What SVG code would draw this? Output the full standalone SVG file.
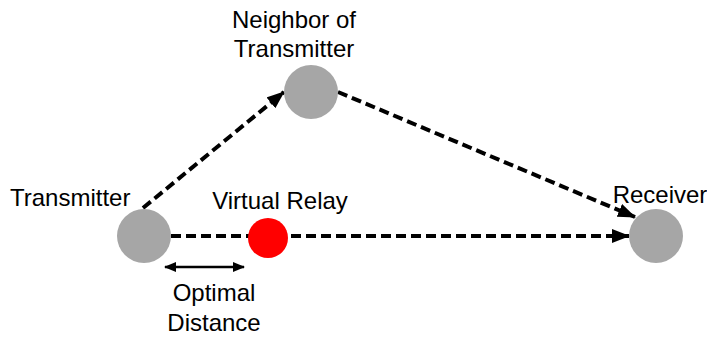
<svg xmlns="http://www.w3.org/2000/svg" width="707" height="339" viewBox="0 0 707 339">
<style>
text{font-family:"Liberation Sans",Arial,sans-serif;font-size:24px;fill:#000}
.node{fill:#a6a6a6}
.relay{fill:#ff0000}
.dash{stroke:#000;stroke-width:4;stroke-dasharray:10 5;fill:none}
.dbl{stroke:#000;stroke-width:2.5;fill:none}
</style>
<defs>
<marker id="ah" markerUnits="userSpaceOnUse" markerWidth="18" markerHeight="14" refX="17" refY="7" orient="auto">
<path d="M0,0 L18,7 L0,14 Z" fill="#000"/>
</marker>
<marker id="sh" markerUnits="userSpaceOnUse" markerWidth="12" markerHeight="10" refX="11" refY="5" orient="auto-start-reverse">
<path d="M0,0 L12,5 L0,10 Z" fill="#000"/>
</marker>
</defs>
<g id="connectors">
<line class="dash" x1="143" y1="208" x2="284" y2="92" marker-end="url(#ah)"/>
<line class="dash" x1="338" y1="92" x2="635" y2="217" marker-end="url(#ah)"/>
<line class="dash" x1="171" y1="236" x2="629" y2="236" marker-end="url(#ah)"/>
<line class="dbl" x1="165" y1="267" x2="244" y2="267" marker-start="url(#sh)" marker-end="url(#sh)"/>
</g>
<g id="transmitter">
<circle class="node" cx="144" cy="236" r="27"/>
<text x="10" y="206">Transmitter</text>
</g>
<g id="neighbor">
<circle class="node" cx="311" cy="92" r="27"/>
<text x="294" y="28" text-anchor="middle">Neighbor of</text>
<text x="294" y="57" text-anchor="middle">Transmitter</text>
</g>
<g id="relay">
<circle class="relay" cx="268" cy="238" r="20"/>
<text x="280" y="209" text-anchor="middle">Virtual Relay</text>
</g>
<g id="receiver">
<circle class="node" cx="656" cy="236" r="27"/>
<text x="660" y="203" text-anchor="middle">Receiver</text>
</g>
<g id="optimal">
<text x="214" y="301" text-anchor="middle">Optimal</text>
<text x="214" y="331" text-anchor="middle">Distance</text>
</g>
</svg>
